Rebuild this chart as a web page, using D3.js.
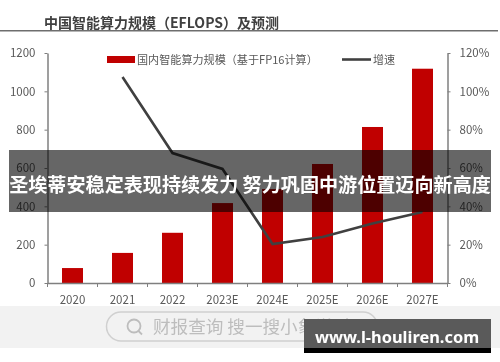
<!DOCTYPE html>
<html>
<head>
<meta charset="utf-8">
<script src="https://cdn.jsdelivr.net/npm/d3@7"></script>
<style>
  html, body { margin: 0; padding: 0; background: #fff; }
  svg { display: block; }
  text { font-family: "Noto Sans CJK SC", "Noto Sans", sans-serif; }
  .soft { filter: blur(0.4px); }
</style>
</head>
<body>
<div id="chart"></div>
<script>
const categories = ["2020", "2021", "2022", "2023E", "2024E", "2025E", "2026E", "2027E"];
const scaleValues = [78, 157, 262, 417, 490, 621, 814, 1118];
const growthValues = [null, 107.5, 67.8, 59.5, 20.3, 24, 31, 37];
const leftTicks = [0, 200, 400, 600, 800, 1000, 1200];
const rightTicks = [0, 20, 40, 60, 80, 100, 120];

const width = 500, height = 362;
const margin = { top: 53, right: 52.5, bottom: 79, left: 47.5 };
const innerW = width - margin.left - margin.right;
const innerH = height - margin.top - margin.bottom;
const gray = "#7f7f7f", labelColor = "#595959";

const svg = d3.select("#chart")
  .append("svg")
  .attr("width", width)
  .attr("height", height);

const soft = svg.append("g").attr("class", "soft");

// title and rule
soft.append("text")
  .attr("x", 44).attr("y", 28)
  .attr("font-size", 14).attr("font-weight", 700).attr("fill", "#404040")
  .text("中国智能算力规模（EFLOPS）及预测");
soft.append("rect")
  .attr("x", 0).attr("y", 30).attr("width", 498).attr("height", 1.5)
  .attr("fill", "#6e6e6e");

const g = soft.append("g")
  .attr("transform", `translate(${margin.left},${margin.top})`);

const x = d3.scaleBand().domain(categories).range([0, innerW]);
const yLeft = d3.scaleLinear().domain([0, 1200]).range([innerH, 0]);
const yRight = d3.scaleLinear().domain([0, 120]).range([innerH, 0]);

// bars
g.selectAll(".bar")
  .data(categories)
  .enter()
  .append("rect")
  .attr("class", "bar")
  .attr("x", d => x(d) + x.bandwidth() / 2 - 10.5)
  .attr("y", (d, i) => yLeft(scaleValues[i]))
  .attr("width", 21)
  .attr("height", (d, i) => innerH - yLeft(scaleValues[i]))
  .attr("fill", "#c00000");

// axes
function styleAxis(sel) {
  sel.selectAll("path").attr("stroke", gray).attr("stroke-width", 1.5);
  sel.selectAll("line").attr("stroke", gray).attr("stroke-width", 1);
  sel.selectAll("text").attr("fill", labelColor).attr("font-size", 11.5);
}

const axisBottom = d3.axisBottom(x).tickSize(0).tickPadding(13);
g.append("g")
  .attr("transform", `translate(0,${innerH})`)
  .call(axisBottom)
  .call(styleAxis);

// bottom ticks sit between the categories
g.append("g")
  .selectAll("line")
  .data(d3.range(categories.length + 1))
  .enter()
  .append("line")
  .attr("x1", i => i * x.step()).attr("x2", i => i * x.step())
  .attr("y1", innerH).attr("y2", innerH + 4)
  .attr("stroke", gray);

g.append("g")
  .call(d3.axisLeft(yLeft).tickValues(leftTicks).tickFormat(d3.format("d")).tickSize(3).tickSizeOuter(0).tickPadding(9))
  .call(styleAxis);

g.append("g")
  .attr("transform", `translate(${innerW},0)`)
  .call(d3.axisRight(yRight).tickValues(rightTicks).tickFormat(d => d + "%").tickSize(3).tickSizeOuter(0).tickPadding(9))
  .call(styleAxis);

// growth line
const line = d3.line()
  .defined(d => d !== null)
  .x((d, i) => x(categories[i]) + x.bandwidth() / 2)
  .y(d => yRight(d));

g.append("path")
  .datum(growthValues)
  .attr("fill", "none")
  .attr("stroke", "#404040")
  .attr("stroke-width", 2.6)
  .attr("d", line);

// legend
soft.append("rect")
  .attr("x", 107).attr("y", 56).attr("width", 28).attr("height", 7)
  .attr("fill", "#c00000");
soft.append("text")
  .attr("x", 137).attr("y", 63.5)
  .attr("font-size", 11.1).attr("fill", labelColor)
  .text("国内智能算力规模（基于FP16计算）");
soft.append("line")
  .attr("x1", 342).attr("x2", 371).attr("y1", 59.5).attr("y2", 59.5)
  .attr("stroke", "#404040").attr("stroke-width", 2.6);
soft.append("text")
  .attr("x", 373).attr("y", 63.5)
  .attr("font-size", 11.1).attr("fill", labelColor)
  .text("增速");

// search bar strip
const bar = svg.append("g").attr("class", "soft");
bar.append("rect")
  .attr("x", 0).attr("y", 306).attr("width", 500).attr("height", 42)
  .attr("fill", "#f2f2f2");
bar.append("rect")
  .attr("x", 106.5).attr("y", 312).attr("width", 271).attr("height", 29).attr("rx", 14.5)
  .attr("fill", "none").attr("stroke", "#d0d0d0").attr("stroke-width", 1.5);
bar.append("circle")
  .attr("cx", 134).attr("cy", 326).attr("r", 6.5)
  .attr("fill", "none").attr("stroke", "#bdbdbd").attr("stroke-width", 1.8);
bar.append("line")
  .attr("x1", 138.5).attr("y1", 331).attr("x2", 142).attr("y2", 334.5)
  .attr("stroke", "#bdbdbd").attr("stroke-width", 1.8);
bar.append("text")
  .attr("x", 153).attr("y", 333)
  .attr("font-size", 17.6).attr("fill", "#bdbdbd")
  .text("财报查询 搜一搜小象说财");

// banner over the chart
svg.append("rect")
  .attr("x", 9).attr("y", 150).attr("width", 482).attr("height", 62)
  .attr("fill", "#000").attr("fill-opacity", 0.6);
svg.append("text")
  .attr("x", 250).attr("y", 192)
  .attr("text-anchor", "middle")
  .attr("font-size", 19.1).attr("font-weight", 700).attr("fill", "#fff")
  .text("圣埃蒂安稳定表现持续发力 努力巩固中游位置迈向新高度");

// site label
svg.append("rect")
  .attr("x", 304).attr("y", 319).attr("width", 187).attr("height", 34)
  .attr("fill", "#000");
svg.append("rect")
  .attr("x", 304).attr("y", 319).attr("width", 187).attr("height", 29)
  .attr("fill", "#5a5a5a");
svg.append("text")
  .attr("x", 397).attr("y", 342.5)
  .attr("text-anchor", "middle")
  .attr("font-size", 16.4).attr("font-weight", 700).attr("fill", "#fff")
  .style("font-family", "'Noto Sans', sans-serif")
  .text("www.l-houliren.com");
</script>
</body>
</html>
